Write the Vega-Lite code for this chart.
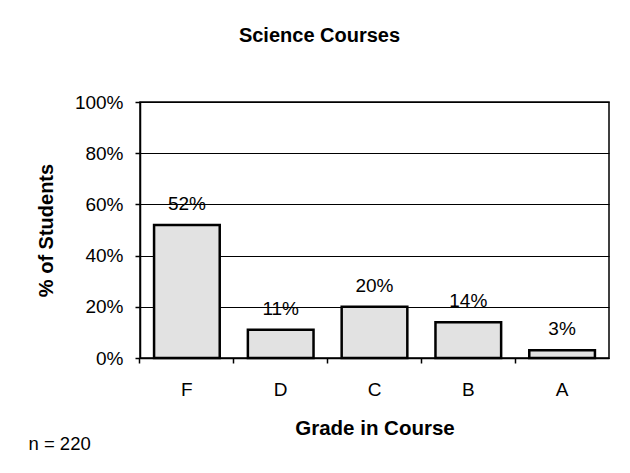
{
  "$schema": "https://vega.github.io/schema/vega-lite/v6.json",
  "width": 469,
  "height": 256,
  "autosize": "none",
  "padding": {"left": 140, "top": 102, "right": 21, "bottom": 115},
  "background": "white",
  "config": {
    "font": "Liberation Sans",
    "view": {"stroke": "black", "strokeWidth": 1.5}
  },
  "title": {
    "text": "Science Courses",
    "fontSize": 20,
    "fontWeight": "bold",
    "color": "black",
    "anchor": "middle",
    "frame": "group",
    "dx": -55,
    "offset": 47
  },
  "data": {
    "values": [
      {"grade": "F", "pct": 0.52},
      {"grade": "D", "pct": 0.11},
      {"grade": "C", "pct": 0.20},
      {"grade": "B", "pct": 0.14},
      {"grade": "A", "pct": 0.03}
    ]
  },
  "layer": [
    {
      "mark": {"type": "bar", "fill": "#e2e2e2", "stroke": "black", "strokeWidth": 2.5},
      "encoding": {
        "x": {
          "field": "grade",
          "type": "nominal",
          "sort": null,
          "scale": {"paddingInner": 0.3, "paddingOuter": 0.15},
          "axis": {
            "title": "Grade in Course",
            "titleFontSize": 20.5,
            "titleFontWeight": "bold",
            "titleColor": "black",
            "titlePadding": 19,
            "labelAngle": 0,
            "labelFontSize": 19,
            "labelColor": "black",
            "labelPadding": 17,
            "bandPosition": -0.2143,
            "tickColor": "black",
            "tickSize": 5,
            "tickWidth": 1.5,
            "domainColor": "black",
            "domainWidth": 1.5,
            "grid": false
          }
        },
        "y": {
          "field": "pct",
          "type": "quantitative",
          "scale": {"domain": [0, 1]},
          "axis": {
            "title": "% of Students",
            "titleFontSize": 20,
            "titleFontWeight": "bold",
            "titleColor": "black",
            "titlePadding": 18,
            "values": [0, 0.2, 0.4, 0.6, 0.8, 1],
            "format": ".0%",
            "labelFontSize": 19,
            "labelColor": "black",
            "labelPadding": 12,
            "tickColor": "black",
            "tickSize": 5,
            "tickWidth": 1.5,
            "domainColor": "black",
            "domainWidth": 1.5,
            "grid": true,
            "gridColor": "black",
            "gridWidth": 1,
            "gridOpacity": 1
          }
        }
      }
    },
    {
      "mark": {"type": "text", "fontSize": 19, "color": "black", "baseline": "middle", "dy": -21},
      "encoding": {
        "x": {
          "field": "grade",
          "type": "nominal",
          "sort": null,
          "axis": {
            "orient": "top",
            "title": "n = 220",
            "titleFontSize": 18.5,
            "titleFontWeight": "normal",
            "titleColor": "black",
            "titleX": -112,
            "titleY": 341,
            "titleAlign": "left",
            "titleBaseline": "middle",
            "labels": false,
            "ticks": false,
            "domain": false,
            "grid": false
          }
        },
        "y": {"field": "pct", "type": "quantitative"},
        "text": {"field": "pct", "type": "quantitative", "format": ".0%"}
      }
    }
  ],
  "resolve": {"axis": {"x": "independent"}}
}
